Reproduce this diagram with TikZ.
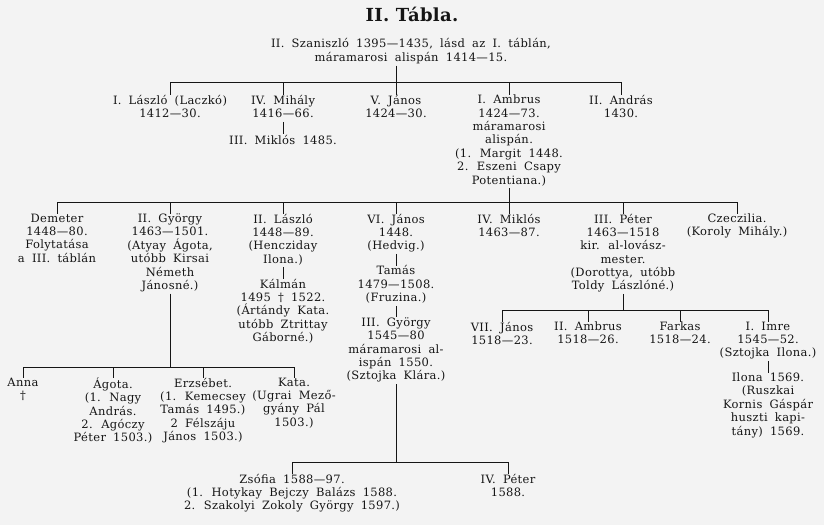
\documentclass[tikz,border=0pt]{standalone}
\usepackage{fontspec}
\setmainfont{DejaVu Serif}
\newfontfamily\tablefont[LetterSpace=3,WordSpace=1.8]{DejaVu Serif}
\newfontfamily\headfont[LetterSpace=2]{DejaVu Serif}
\usepackage{tikz}
\usetikzlibrary{positioning}
\definecolor{paper}{HTML}{F3F3F3}
\definecolor{ink}{HTML}{151515}

\begin{document}
\begin{tikzpicture}[
    x=1pt, y=-1pt,
    node distance=11.6pt,
    person/.style={align=center, anchor=north, inner sep=0pt, text=ink,
      font=\tablefont\fontsize{11.5}{13.35}\selectfont,
      execute at begin node={\rule{0pt}{11.2pt}},
      execute at end node={\rule[-4pt]{0pt}{4pt}}},
    title/.style={font=\headfont\bfseries\fontsize{18}{18}\selectfont, text=ink, inner sep=0pt},
    line/.style={draw=ink, line width=0.6pt}
  ]
  \fill[paper] (0,0) rectangle (824,525);
  \useasboundingbox (0,0) rectangle (824,525);

  \node[title] (title) at (412,14) {II. Tábla.};
  \node[person] (root) at (411,38.6) {II. Szaniszló 1395—1435, lásd az I. táblán,\\máramarosi alispán 1414—15.};

  \node[person] (laszlo1) at (170,95) {I. László (Laczkó)\\1412—30.};
  \node[person] (mihaly) at (283,95) {IV. Mihály\\1416—66.};
  \node[person] (janos5) at (396,95) {V. János\\1424—30.};
  \node[person] (ambrus) at (509,95) {I. Ambrus\\1424—73.\\máramarosi\\alispán.\\(1. Margit 1448.\\2. Eszeni Csapy\\Potentiana.)};
  \node[person] (andras) at (621,95) {II. András\\1430.};
  \node[person, below=of mihaly] (miklos3) {III. Miklós 1485.};

  \node[person] (demeter) at (57,213.6) {Demeter\\1448—80.\\Folytatása\\a III. táblán};
  \node[person] (gyorgy2) at (170,213.6) {II. György\\1463—1501.\\(Atyay Ágota,\\utóbb Kirsai\\Németh\\Jánosné.)};
  \node[person] (laszlo2) at (283,213.6) {II. László\\1448—89.\\(Hencziday\\Ilona.)};
  \node[person] (janos6) at (396,213.6) {VI. János\\1448.\\(Hedvig.)};
  \node[person] (miklos4) at (509,213.6) {IV. Miklós\\1463—87.};
  \node[person] (peter3) at (623,213.6) {III. Péter\\1463—1518\\kir. al-lovász-\\mester.\\(Dorottya, utóbb\\Toldy Lászlóné.)};
  \node[person] (czeczilia) at (737,213.6) {Czeczilia.\\(Koroly Mihály.)};

  \node[person, below=of laszlo2] (kalman) {Kálmán\\1495 \textdagger\ 1522.\\(Ártándy Kata.\\utóbb Ztrittay\\Gáborné.)};
  \node[person, below=of janos6] (tamas) {Tamás\\1479—1508.\\(Fruzina.)};
  \node[person, below=of tamas] (gyorgy3) {III. György\\1545—80\\máramarosi al-\\ispán 1550.\\(Sztojka Klára.)};

  \node[person] (janos7) at (502,321.6) {VII. János\\1518—23.};
  \node[person] (ambrus2) at (588,321.6) {II. Ambrus\\1518—26.};
  \node[person] (farkas) at (680,321.6) {Farkas\\1518—24.};
  \node[person] (imre) at (768,321.6) {I. Imre\\1545—52.\\(Sztojka Ilona.)};
  \node[person, below=of imre] (ilona) {Ilona 1569.\\(Ruszkai\\Kornis Gáspár\\huszti kapi-\\tány) 1569.};

  \node[person] (anna) at (23,377.6) {Anna\\\textdagger};
  \node[person] (agota) at (113,377.6) {Ágota.\\(1. Nagy\\András.\\2. Agóczy\\Péter 1503.)};
  \node[person] (erzsebet) at (203,377.6) {Erzsébet.\\(1. Kemecsey\\Tamás 1495.)\\2 Félszáju\\János 1503.)};
  \node[person] (kata) at (294,377.6) {Kata.\\(Ugrai Mező-\\gyány Pál\\1503.)};

  \node[person] (zsofia) at (292,473.6) {Zsófia 1588—97.\\(1. Hotykay Bejczy Balázs 1588.\\2. Szakolyi Zokoly György 1597.)};
  \node[person] (peter4) at (508,473.6) {IV. Péter\\1588.};

  \coordinate (bar1) at (396,82);
  \coordinate (bar2) at (509,202);
  \coordinate (bar3) at (170,367);
  \coordinate (bar4) at (623,310);
  \coordinate (bar5) at (396,462);

  \draw[line] (root.south -| janos5.north) -- (janos5.north);
  \draw[line] (laszlo1.north |- bar1) -- (andras.north |- bar1);
  \foreach \n in {laszlo1,mihaly,ambrus,andras}
    \draw[line] (\n.north |- bar1) -- (\n.north);
  \draw[line] (mihaly.south) -- (miklos3.north);

  \draw[line] (ambrus.south) -- (miklos4.north);
  \draw[line] (demeter.north |- bar2) -- (czeczilia.north |- bar2);
  \foreach \n in {demeter,gyorgy2,laszlo2,janos6,peter3,czeczilia}
    \draw[line] (\n.north |- bar2) -- (\n.north);
  \draw[line] (laszlo2.south) -- (kalman.north);
  \draw[line] (janos6.south) -- (tamas.north);
  \draw[line] (tamas.south) -- (gyorgy3.north);

  \draw[line] (gyorgy2.south) -- (gyorgy2.south |- bar3);
  \draw[line] (anna.north |- bar3) -- (kata.north |- bar3);
  \foreach \n in {anna,agota,erzsebet,kata}
    \draw[line] (\n.north |- bar3) -- (\n.north);

  \draw[line] (peter3.south) -- (peter3.south |- bar4);
  \draw[line] (janos7.north |- bar4) -- (imre.north |- bar4);
  \foreach \n in {janos7,ambrus2,farkas,imre}
    \draw[line] (\n.north |- bar4) -- (\n.north);
  \draw[line] (imre.south) -- (ilona.north);

  \draw[line] (gyorgy3.south) -- (gyorgy3.south |- bar5);
  \draw[line] (zsofia.north |- bar5) -- (peter4.north |- bar5);
  \foreach \n in {zsofia,peter4}
    \draw[line] (\n.north |- bar5) -- (\n.north);
\end{tikzpicture}
\end{document}
